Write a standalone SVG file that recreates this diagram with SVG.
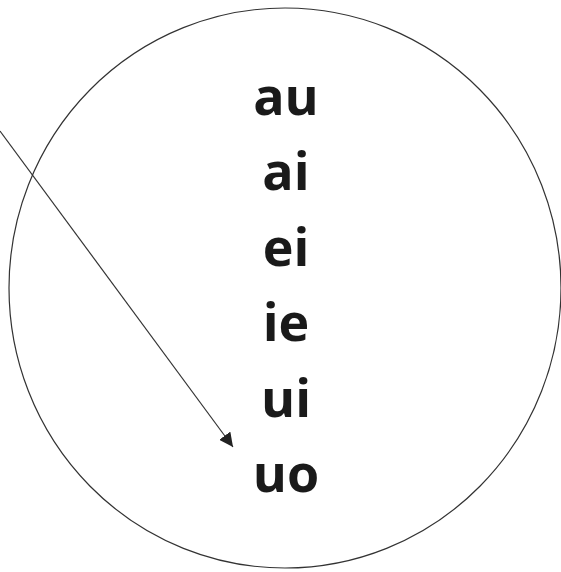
<svg xmlns="http://www.w3.org/2000/svg" width="561" height="572" viewBox="0 0 561 572">
<style>
.lbl{font-family:"Open Sans","Liberation Sans",sans-serif;font-weight:bold;font-size:52px;fill:#1a1a1a;text-anchor:middle}
.edge{stroke:#333;stroke-width:1.2;fill:none}
</style>
<defs>
<marker id="arr" viewBox="0 0 10 10" refX="10" refY="5" markerWidth="14" markerHeight="14" markerUnits="userSpaceOnUse" orient="auto">
<path d="M0,0 L10,5 L0,10 z" fill="#222"/>
</marker>
</defs>
<rect width="561" height="572" fill="#fff"/>
<g id="circle">
<ellipse cx="285" cy="288" rx="276" ry="280" fill="none" stroke="#333" stroke-width="1.2"/>
</g>
<g id="labels">
<text class="lbl" x="286" y="115">au</text>
<text class="lbl" x="286" y="190">ai</text>
<text class="lbl" x="286" y="266">ei</text>
<text class="lbl" x="286" y="341">ie</text>
<text class="lbl" x="286" y="417">ui</text>
<text class="lbl" x="286" y="492">uo</text>
</g>
<g id="connectors">
<line class="edge" x1="0" y1="131" x2="233" y2="447" marker-end="url(#arr)"/>
</g>
</svg>
